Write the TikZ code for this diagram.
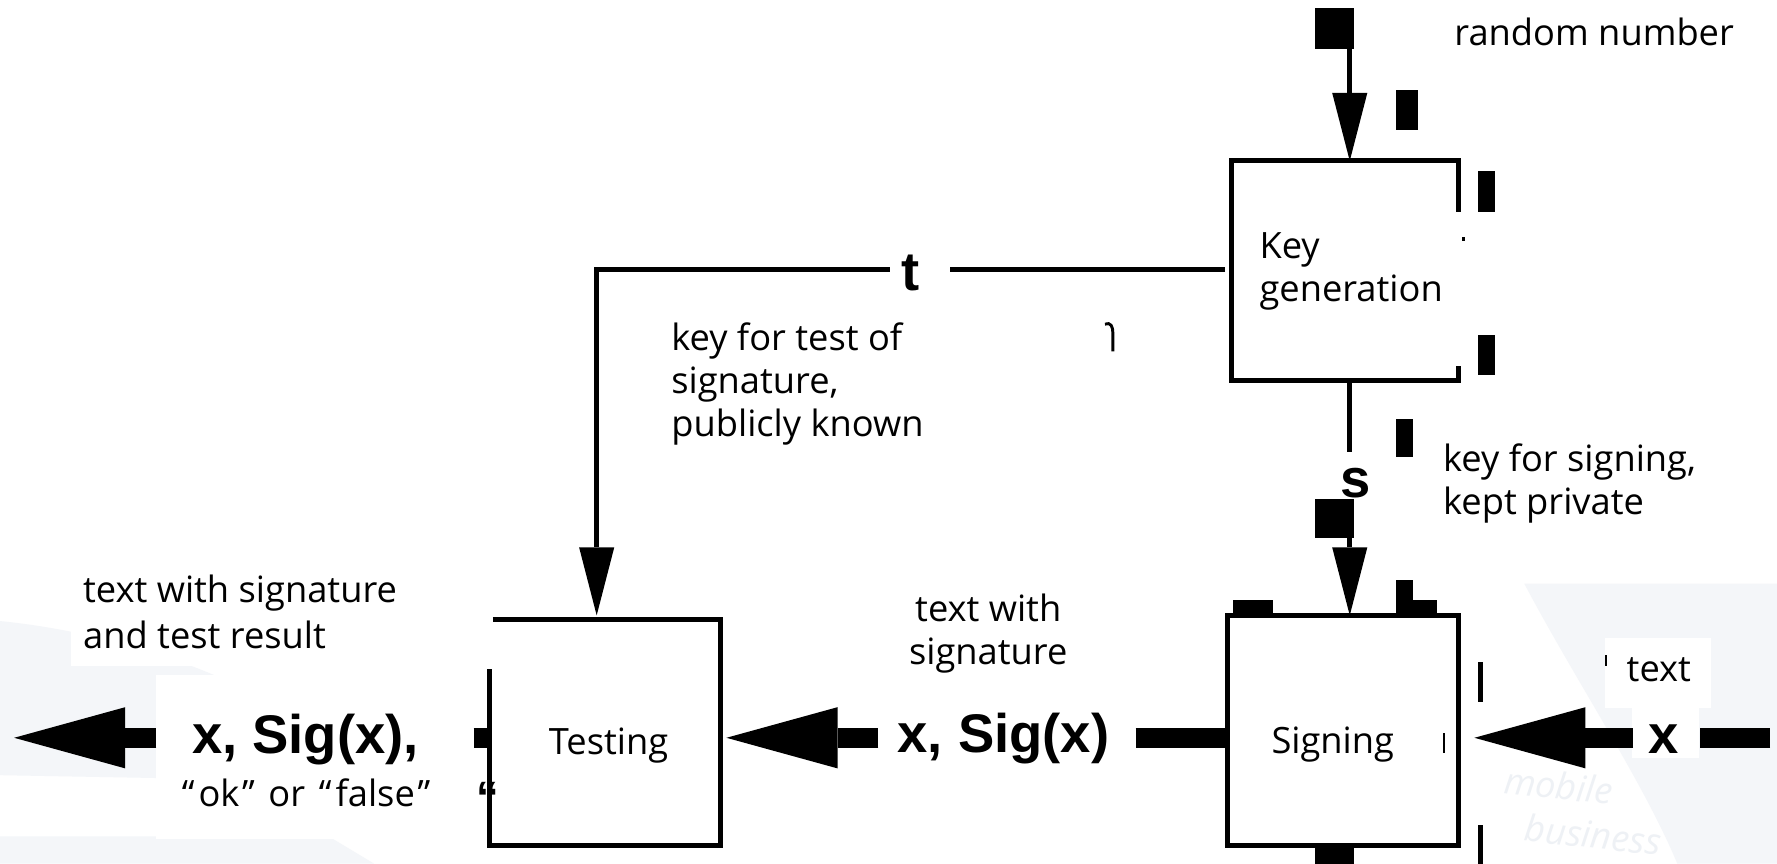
\documentclass[tikz,border=0pt]{standalone}
\usepackage{fontspec}
\setmainfont{Open Sans}
\newfontfamily\arialfam{Liberation Sans}
\usetikzlibrary{arrows.meta,calc}

% stacked lines with their own baseline skip; the box baseline is that of the first line
\newcommand\linesL[2]{\vtop{\baselineskip=#1\halign{##\hfil\cr#2\crcr}}}
\newcommand\linesC[2]{\vtop{\baselineskip=#1\halign{\hfil##\hfil\cr#2\crcr}}}

\definecolor{wm}{RGB}{244,246,249}
\definecolor{wmtext}{RGB}{238,241,245}

\tikzset{
  boxframe/.style={rectangle, draw=none, inner sep=0pt, outer sep=0pt},
  box/.style={boxframe, draw=black, line width=2.2pt},
  boxline/.style={line width=2.2pt, black},
  edgeline/.style={line width=2.2pt, black},
  thinarrow/.style={edgeline, -{Triangle[length=30pt,width=15.5pt,line width=0pt]}},
  fatline/.style={line width=9pt, black},
  fatarrow/.style={fatline, -{Triangle[length=49pt,width=27pt,line width=0pt]}},
  txt/.style={inner sep=0pt, font=\fontsize{16}{19}\selectfont},
  keylbl/.style={inner sep=0pt, font=\arialfam\bfseries\fontsize{24}{28}\selectfont},
  blot/.style={fill=black},
  wmlbl/.style={inner sep=0pt, anchor=base west, rotate=-6, text=wmtext,
    font=\fontsize{16}{16}\selectfont\itshape},
}

\begin{document}
\begin{tikzpicture}[x=0.5pt, y=-0.5pt, line join=miter]
\useasboundingbox (0,0) rectangle (1568,762);
\fill[white] (0,0) rectangle (1568,762);

% faint background swooshes and the white patches behind labels
\fill[wm] (0,548) .. controls (120,560) and (260,610) .. (330,690) -- (0,684) -- cycle;
\fill[wm] (0,738) -- (290,738) -- (330,762) -- (0,762) -- cycle;
\fill[wm] (1345,515) -- (1568,515) -- (1568,762) -- (1480,762)
  .. controls (1450,690) and (1390,600) .. cycle;
\fill[white] (63,494) rectangle (353,588);
\fill[white] (138,596) rectangle (418,740);
\fill[white] (1416,563) rectangle (1510,625);
\fill[white] (1440,625) rectangle (1499,669);
\node[wmlbl] (wmark1) at (1326,700) {mobile};
\node[wmlbl] (wmark2) at (1344,742) {business};

% blocks
\node[boxframe, minimum width=100pt, minimum height=97pt] (keygen) at (1187,239) {};
\draw[boxline] ($(keygen.north east)+(0,45)$) -- (keygen.north east) -- (keygen.north west)
  -- (keygen.south west) -- (keygen.south east) -- ($(keygen.south east)+(0,-13)$);
\node[txt, anchor=base west] (kglbl) at (1111,228) {\linesL{19pt}{Key\cr generation}};

\node[boxframe, minimum width=102pt, minimum height=99.5pt] (testing) at (534,646.5) {};
\draw[boxline] ($(testing.north west)+(3,0)$) -- (testing.north east) -- (testing.south east)
  -- (testing.south west) -- ($(testing.south west)+(0,-156)$);
\node[txt, anchor=base] (tstlbl) at (537,666) {Testing};

\node[box, minimum width=102pt, minimum height=101.5pt] (signing) at (1185,644.5) {};
\node[txt, anchor=base] (sglbl) at (1176,664.7) {Signing};

% random number into key generation
\coordinate (rndsrc) at (1191,43);
\draw[thinarrow] (rndsrc) -- (rndsrc |- keygen.north);
\node[txt, anchor=base west] (rndlbl) at (1283,40) {random number};

% public test key t
\coordinate (tR) at (838,237.6);
\coordinate (tL) at (785,237.6);
\draw[edgeline, shorten <=3pt] (keygen.west |- tR) -- (tR);
\draw[thinarrow, shorten >=2pt] (tL) -| ($(testing.north)+(-7.5,0)$);
\node[keylbl, anchor=base] (tlbl) at (803.6,256) {t};
\node[txt, anchor=base west] (pubkey) at (592,309)
  {\linesL{19pt}{key for test of\cr signature,\cr publicly known}};

% private signing key s
\coordinate (sTop) at (1191,399);
\coordinate (sBot) at (1191,450);
\draw[edgeline] (sTop |- keygen.south) -- (sTop);
\draw[thinarrow] (sBot) -- (sBot |- signing.north);
\node[keylbl, anchor=base] (slbl) at (1196,439) {s};
\node[txt, anchor=base west] (privkey) at (1273,416)
  {\linesL{19pt}{key for signing,\cr kept private}};

% text x into signing
\coordinate (rIn) at (1562,651);
\coordinate (rA) at (1500,651);
\coordinate (rB) at (1441,651);
\draw[fatline] (rIn) -- (rA);
\draw[fatarrow, shorten >=7pt] (rB) -- (rB -| signing.east);
\node[keylbl, anchor=base] (xlbl) at (1468,664.5) {x};
\node[txt, anchor=base west] (txtlbl) at (1435,601.5) {text};

% signed text from signing to testing
\coordinate (mR) at (1002,651);
\coordinate (mL) at (775,651);
\draw[fatline] (mR) -- (mR -| signing.west);
\draw[fatarrow, shorten >=2.5pt] (mL) -- (mL -| testing.east);
\node[keylbl, anchor=base] (mlbl) at (885.5,664) {x, Sig(x)};
\node[txt, anchor=base] (midtxt) at (872,548.5) {\linesC{19pt}{text with\cr signature}};

% result out of testing
\coordinate (lR) at (418,651);
\coordinate (lL) at (138,651);
\coordinate (lOut) at (12.5,651);
\draw[fatline] (lR) -- (lR -| testing.west);
\draw[fatarrow] (lL) -- (lOut);
\node[keylbl, anchor=base] (llbl) at (269.5,665) {x, Sig(x),};
\node[txt, anchor=base west] (oklbl) at (160,712)
  {“\kern1.8pt ok\kern1.2pt”\hspace{6pt}or\hspace{6pt}“\kern1.8pt false\kern1.2pt”};
\node[keylbl, anchor=base west, font=\arialfam\bfseries\fontsize{20}{24}\selectfont] (qlbl) at (420,718) {“};
\node[txt, anchor=base west] (outtxt) at (73,532)
  {\linesL{20pt}{text with signature\cr and test result}};

% solid black fragments around the blocks
\fill[blot] (1160,7) rectangle (1195,43);
\fill[blot] (1232,79) rectangle (1251,115);
\fill[blot] (1304,151) rectangle (1319,187);
\fill[blot] (1290,209) rectangle (1293,213);
\fill[blot] (1304,296) rectangle (1319,331);
\fill[blot] (1232,370) rectangle (1247,403);
\fill[blot] (1160,440) rectangle (1195,475);
\fill[blot] (1088,529) rectangle (1123,543);
\fill[blot] (1232,512) rectangle (1247,543);
\fill[blot] (1232,529) rectangle (1268,543);
\fill[blot] (1304,584) rectangle (1309,619);
\fill[blot] (1304,728) rectangle (1309,762);
\fill[blot] (1273,647) rectangle (1275,664);
\fill[blot] (1160,748) rectangle (1195,762);
\fill[blot] (1416.5,578) rectangle (1418,588);
\draw[line width=1.3pt] (975,286) .. controls (980,284) and (982,288) .. (982,294) -- (982,310);
\end{tikzpicture}
\end{document}
